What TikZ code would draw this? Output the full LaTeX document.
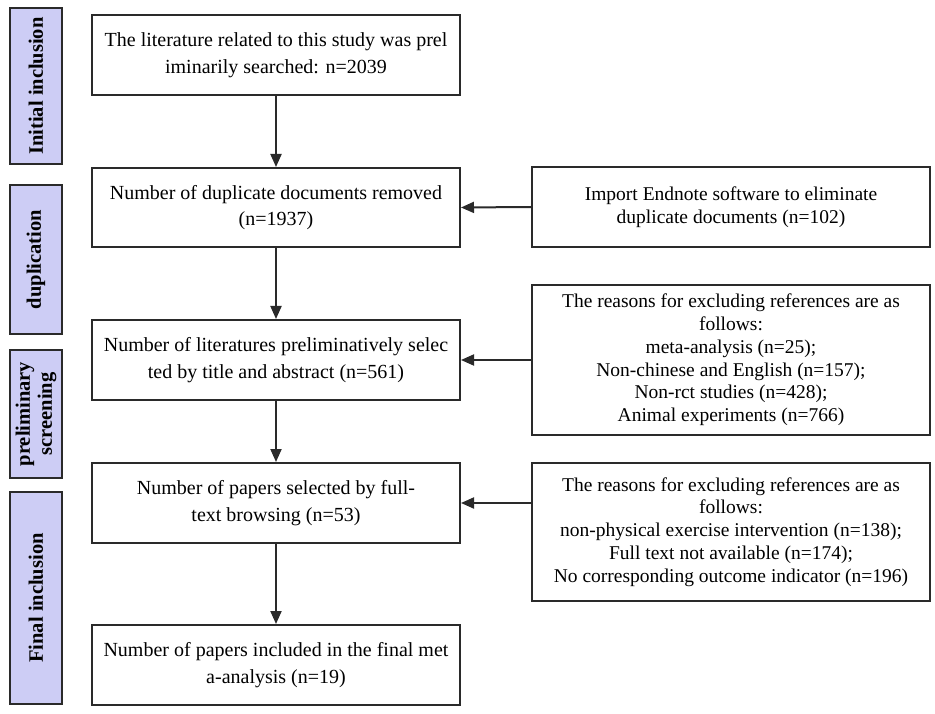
\documentclass[tikz,border=0pt]{standalone}
\usepackage{fontspec}
\setmainfont{Liberation Serif}
\usetikzlibrary{arrows.meta}
\definecolor{linec}{HTML}{2A2A2A}
\definecolor{lavender}{HTML}{CDCDF5}
\begin{document}
\begin{tikzpicture}[x=1pt,y=-1pt,
  mainbox/.style={draw=linec, line width=2pt, fill=white, minimum width=368pt, minimum height=80pt, align=center, inner sep=0pt,
    font=\fontsize{20}{26.5}\selectfont},
  sidebox/.style={draw=linec, line width=2pt, fill=white, minimum width=398pt, align=center, inner sep=0pt,
    font=\fontsize{19.5}{22.8}\selectfont},
  stagebox/.style={draw=linec, line width=2pt, fill=lavender, minimum width=52pt, inner sep=0pt},
  stagetext/.style={rotate=90, align=center, font=\fontsize{20.5}{22}\selectfont\bfseries},
  arr/.style={draw=linec, line width=2pt, -{Triangle[length=13pt,width=11pt]}}
]
\useasboundingbox (0,0) rectangle (935,714);

% stage labels
\node[stagebox, minimum height=156pt] (s1) at (36,86) {};
\node[stagetext] (s1t) at (s1.center) {Initial inclusion};
\node[stagebox, minimum height=149pt] (s2) at (36,259.5) {};
\node[stagetext] (s2t) at (s2.center) {duplication};
\node[stagebox, minimum height=128pt] (s3) at (36,414) {};
\node[stagetext] (s3t) at (s3.center) {preliminary\\screening};
\node[stagebox, minimum height=212pt] (s4) at (36,598) {};
\node[stagetext] (s4t) at (s4.center) {Final inclusion};

% main column
\node[mainbox] (a) at (276,55) {The literature related to this study was prel\\iminarily searched: n=2039};
\node[mainbox, minimum height=79pt] (b) at (276,207.5) {Number of duplicate documents removed\\(n=1937)};
\node[mainbox] (c) at (276,360) {Number of literatures preliminatively selec\\ted by title and abstract (n=561)};
\node[mainbox] (d) at (276,503) {Number of papers selected by full-\\text browsing (n=53)};
\node[mainbox] (e) at (276,665) {Number of papers included in the final met\\a-analysis (n=19)};

% side column
\node[sidebox, minimum height=80pt] (r1) at (731,207) {Import Endnote software to eliminate\\duplicate documents (n=102)};
\node[sidebox, minimum height=150pt] (r2) at (731,360) {The reasons for excluding references are as\\follows:\\meta-analysis (n=25);\\Non-chinese and English (n=157);\\Non-rct studies (n=428);\\Animal experiments (n=766)};
\node[sidebox, minimum height=138pt] (r3) at (731,532) {The reasons for excluding references are as\\follows:\\non-physical exercise intervention (n=138);\\Full text not available (n=174);\\No corresponding outcome indicator (n=196)};

% connectors
\draw[arr] (a.south) -- (b.north);
\draw[arr] (b.south) -- (c.north);
\draw[arr] (c.south) -- (d.north);
\draw[arr] (d.south) -- (e.north);
\draw[arr] (r1.west) -- (b.east);
\draw[arr] (r2.west) -- (c.east);
\draw[arr] (r3.west |- d.east) -- (d.east);
\end{tikzpicture}
\end{document}
